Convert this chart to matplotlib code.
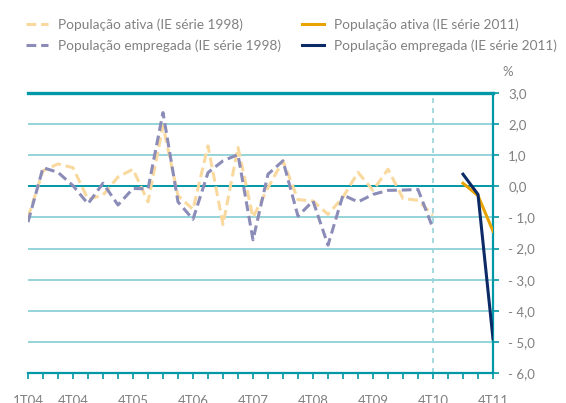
import matplotlib
matplotlib.use("Agg")
import matplotlib.pyplot as plt
import numpy as np

plt.rcParams['font.family'] = ['Lato', 'DejaVu Sans']

# quarters 1T04 .. 4T11
quarters = ["%dT%02d" % (q, y) for y in range(4, 12) for q in range(1, 5)]
shown = ["1T04", "4T04", "4T05", "4T06", "4T07", "4T08", "4T09", "4T10", "4T11"]

# IE série 1998 (1T04 .. 4T10)
ativa98 = [-1.0, 0.5, 0.72, 0.6, -0.42, -0.28, 0.3, 0.55, -0.5, 1.95,
           -0.3, -0.74, 1.3, -1.23, 1.25, -1.0, -0.04, 0.82, -0.43, -0.47,
           -0.9, -0.35, 0.45, -0.13, 0.55, -0.39, -0.45, -0.93]
empreg98 = [-1.15, 0.6, 0.45, 0.02, -0.56, 0.1, -0.6, -0.07, -0.08, 2.37,
            -0.5, -1.06, 0.44, 0.82, 1.02, -1.72, 0.39, 0.82, -0.96, -0.47,
            -1.89, -0.28, -0.5, -0.26, -0.13, -0.12, -0.1, -1.35]
# IE série 2011 (2T11 .. 4T11)
ativa11 = [0.1, -0.3, -1.44]
empreg11 = [0.39, -0.26, -4.9]

teal = '#0098a6'
grid_c = '#96d4d9'
gray = '#808080'

x98 = np.arange(len(ativa98))
x11 = np.arange(29, 32)

fig = plt.figure(figsize=(5.66, 4.03), dpi=100)
ax = fig.add_axes([28/566, 30/403, 465/566, 280/403])

for v in [2, 1, -1, -2, -3, -4, -5]:
    ax.axhline(v, color=grid_c, lw=1.4, zorder=1)
ax.axhline(0, color=teal, lw=1.4, zorder=1)
ax.axvline(27, color=grid_c, lw=1.2, ls=(0, (3, 3)), zorder=1)

l1, = ax.plot(x98, ativa98, color='#f9d99e', lw=2.2, ls=(0, (3.2, 1.6)), zorder=3,
              label='População ativa (IE série 1998)')
l2, = ax.plot(x98, empreg98, color='#8c8cb8', lw=2.2, ls=(0, (3.2, 1.6)), zorder=4,
              label='População empregada (IE série 1998)')
l3, = ax.plot(x11, ativa11, color='#e8a300', lw=2.2, zorder=5,
              label='População ativa (IE série 2011)')
l4, = ax.plot(x11, empreg11, color='#0b2a66', lw=2.2, zorder=6,
              label='População empregada (IE série 2011)')

ax.set_xlim(0, 31)
ax.set_ylim(-6, 3)

ax.spines['left'].set_visible(False)
ax.spines['top'].set_color(teal)
ax.spines['top'].set_linewidth(2.4)
ax.spines['bottom'].set_color(teal)
ax.spines['bottom'].set_linewidth(1.6)
ax.spines['right'].set_color(teal)
ax.spines['right'].set_linewidth(1.6)

ax.set_xticks(np.arange(len(quarters)))
ax.set_xticklabels([q if q in shown else "" for q in quarters])
ax.tick_params(axis='x', direction='out', length=4, width=1.2, color=teal,
               labelcolor=gray, labelsize=9.5, pad=11.5)

yt = np.arange(-6, 4)
ax.yaxis.tick_right()
ax.set_yticks(yt)
ax.set_yticklabels([("- %d,0" % -v) if v < 0 else ("%d,0" % v) for v in yt])
ax.tick_params(axis='y', direction='out', length=4, width=1.2, color=teal,
               labelcolor=gray, labelsize=9.5, pad=7)

fig.text(508/566, 1 - 72/403, '%', color=gray, fontsize=9.5, ha='center', va='center')

leg = fig.legend(handles=[l1, l2, l3, l4], ncol=2, loc='upper left',
                 bbox_to_anchor=(14/566, 1 - 6/403), frameon=False, fontsize=9.8,
                 handlelength=1.6, handletextpad=0.7, columnspacing=1.6,
                 labelspacing=0.65, labelcolor=gray)

fig.savefig('out.png', dpi=100)
